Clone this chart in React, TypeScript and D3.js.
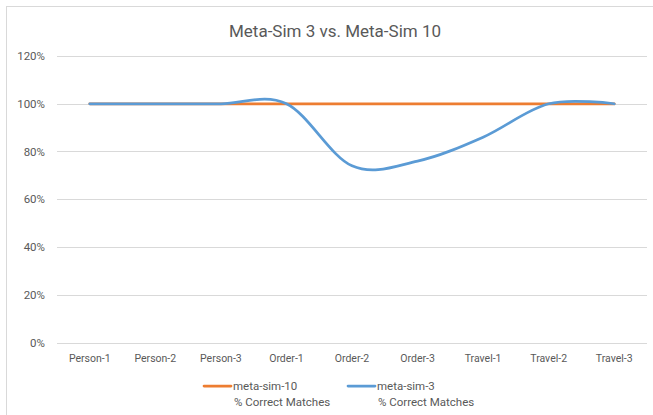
import React from "react";
import * as d3 from "d3";

const categories = ["Person-1", "Person-2", "Person-3", "Order-1", "Order-2", "Order-3", "Travel-1", "Travel-2", "Travel-3"];
const metaSim10 = [1, 1, 1, 1, 1, 1, 1, 1, 1];
const metaSim3 = [1, 1, 1, 1, 0.74, 0.76, 0.86, 1, 1];
const yTicks = [0, 0.2, 0.4, 0.6, 0.8, 1.0, 1.2];

const series = [
    { name: "meta-sim-10", sub: "% Correct Matches", values: metaSim10, color: "#ED7D31", lx: 204 },
    { name: "meta-sim-3", sub: "% Correct Matches", values: metaSim3, color: "#5B9BD5", lx: 348 }
];

const width = 653;
const height = 415;
const plot = { left: 57, right: 647, top: 56, bottom: 342.5 };
const font = "Roboto, 'Open Sans', sans-serif";
const textColor = "#595959";

export default function App() {
    const xScale = d3
        .scaleBand<string>()
        .domain(categories)
        .range([plot.left, plot.right]);
    const yScale = d3
        .scaleLinear()
        .domain([0, 1.2])
        .range([plot.bottom, plot.top]);
    const line = d3
        .line<number>()
        .x((d, i) => (xScale(categories[i]) as number) + xScale.bandwidth() / 2)
        .y(d => yScale(d))
        .curve(d3.curveCardinal.tension(0));

    return (
        <svg
            width={width}
            height={height}
            style={{ position: "absolute", left: 0, top: 0, display: "block", background: "#fff" }}
        >
            <rect x={6.5} y={6.5} width={660} height={420} fill="#fff" stroke="#D9D9D9" strokeWidth={1} />
            <text x={335} y={37} textAnchor="middle" fontFamily={font} fontSize={17} fill={textColor}>
                Meta-Sim 3 vs. Meta-Sim 10
            </text>
            {yTicks.map(t => (
                <g key={t}>
                    <line
                        x1={plot.left}
                        x2={plot.right}
                        y1={Math.round(yScale(t)) + 0.5}
                        y2={Math.round(yScale(t)) + 0.5}
                        stroke="#D9D9D9"
                        strokeWidth={1}
                    />
                    <text
                        x={45}
                        y={yScale(t)}
                        dy="0.35em"
                        textAnchor="end"
                        fontFamily={font}
                        fontSize={11.5}
                        fill={textColor}
                    >
                        {d3.format(".0%")(t)}
                    </text>
                </g>
            ))}
            {categories.map(c => (
                <text
                    key={c}
                    x={(xScale(c) as number) + xScale.bandwidth() / 2}
                    y={362}
                    textAnchor="middle"
                    fontFamily={font}
                    fontSize={10.5}
                    fill={textColor}
                >
                    {c}
                </text>
            ))}
            {series.map(s => (
                <path
                    key={s.name}
                    d={line(s.values) || ""}
                    fill="none"
                    stroke={s.color}
                    strokeWidth={2.75}
                    strokeLinecap="round"
                />
            ))}
            {series.map(s => (
                <g key={"legend-" + s.name}>
                    <line x1={s.lx} x2={s.lx + 27} y1={386} y2={386} stroke={s.color} strokeWidth={2.75} strokeLinecap="round" />
                    <text x={s.lx + 29} y={390} fontFamily={font} fontSize={11.5} fill={textColor}>
                        {s.name}
                    </text>
                    <text x={s.lx + 30} y={406} fontFamily={font} fontSize={11.5} fill={textColor}>
                        {s.sub}
                    </text>
                </g>
            ))}
        </svg>
    );
}
